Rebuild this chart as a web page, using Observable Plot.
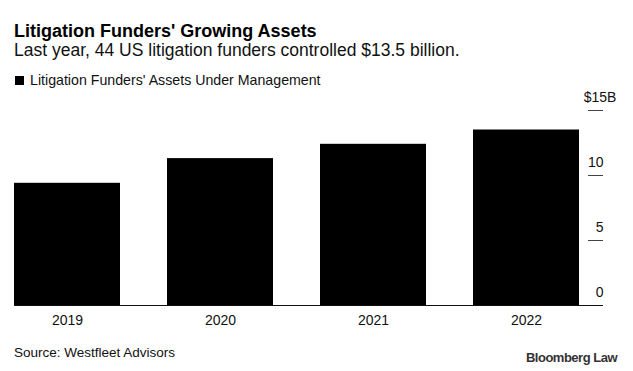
<!DOCTYPE html>
<html>
<head>
<meta charset="utf-8">
<script src="https://cdn.jsdelivr.net/npm/d3@7"></script>
<script src="https://cdn.jsdelivr.net/npm/@observablehq/plot@0.6"></script>
<style>
  html, body { margin: 0; padding: 0; background: #fff; }
  body { width: 633px; height: 371px; position: relative; overflow: hidden; font-family: "Liberation Sans", Arial, sans-serif; color: #111; }
  .t { position: absolute; white-space: nowrap; }
  #title { left: 14px; top: 21.8px; font-size: 18px; line-height: 18px; font-weight: bold; color: #000; }
  #subtitle { left: 14px; top: 42.2px; font-size: 17.5px; line-height: 17.5px; color: #111; }
  #legend { left: 15px; top: 73px; font-size: 14.2px; line-height: 14.2px; color: #111; }
  #legend .sw { display: inline-block; width: 9px; height: 9px; background: #000; margin-right: 6px; vertical-align: 0px; }
  #source { left: 14px; top: 345.6px; font-size: 13.5px; line-height: 13.5px; color: #111; }
  #brand { right: 16px; top: 350.5px; font-size: 13px; line-height: 13px; font-weight: bold; letter-spacing: -0.5px; color: #333; }
  #chart { position: absolute; left: 0; top: 80px; }
</style>
</head>
<body>
<div class="t" id="title">Litigation Funders' Growing Assets</div>
<div class="t" id="subtitle">Last year, 44 US litigation funders controlled $13.5 billion.</div>
<div class="t" id="legend"><span class="sw"></span>Litigation Funders' Assets Under Management</div>
<div id="chart"></div>
<div class="t" id="source">Source: Westfleet Advisors</div>
<div class="t" id="brand">Bloomberg Law</div>
<script>
const years = ["2019", "2020", "2021", "2022"];
const assets = [9.4, 11.3, 12.4, 13.5];
const yTicks = [0, 5, 10, 15];
const yTickLabels = ["0", "5", "10", "$15B"];

const data = years.map((year, i) => ({year, value: assets[i]}));
const tickData = yTicks.map((v, i) => ({v, label: yTickLabels[i]}));

const chart = Plot.plot({
  width: 633,
  height: 255,
  marginTop: 30,
  marginBottom: 30,
  marginLeft: 14,
  marginRight: 53,
  style: { fontFamily: "Liberation Sans, Arial, sans-serif", fontSize: "14px", color: "#111", background: "transparent" },
  x: { domain: years, paddingInner: 0.307, paddingOuter: 0, label: null },
  y: { domain: [0, 15], label: null },
  marks: [
    Plot.barY(data, { x: "year", y: "value", fill: "#000" }),
    Plot.ruleY([0], { stroke: "#111", strokeWidth: 1, insetRight: -23 }),
    Plot.ruleY(yTicks.filter(d => d > 0), { stroke: "#444", strokeWidth: 1, insetLeft: 574, insetRight: -23 }),
    Plot.text(tickData.filter(d => d.v !== 15), { y: "v", text: "label", frameAnchor: "right", textAnchor: "end", dx: 23, dy: -13, fill: "#111", fontSize: 14 }),
    Plot.text(tickData.filter(d => d.v === 15), { y: "v", text: "label", frameAnchor: "right", textAnchor: "middle", dx: 19.5, dy: -13, fill: "#111", fontSize: 14 }),
    Plot.axisX({ tickSize: 0, tickPadding: 10, fontSize: 14, label: null }),
    Plot.axisY({ ticks: [], label: null })
  ]
});
document.getElementById("chart").appendChild(chart);
</script>
</body>
</html>
